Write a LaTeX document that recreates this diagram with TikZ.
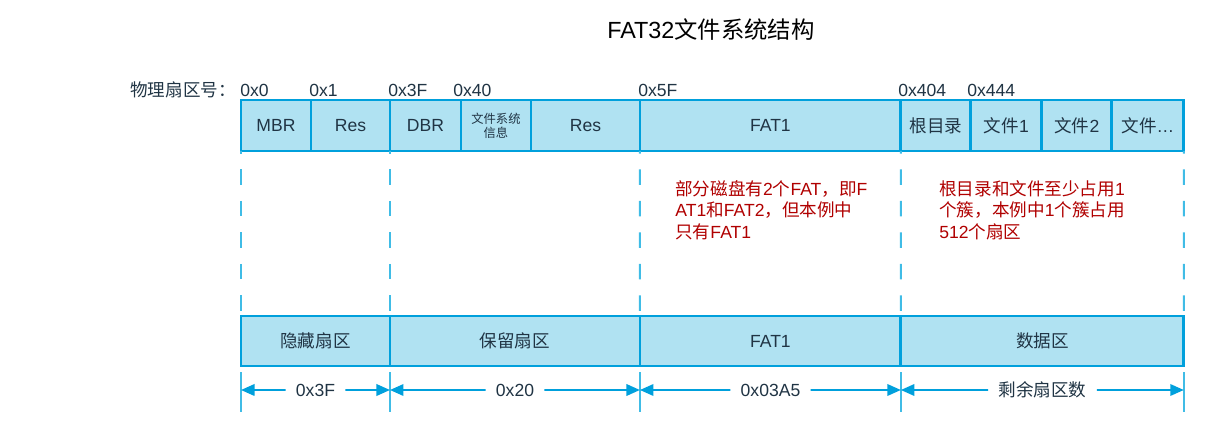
\documentclass[tikz,border=0pt]{standalone}
\usepackage{fontspec}
\setmainfont{Liberation Sans}
\newfontfamily\cjk[Scale=1.0]{Noto Sans CJK SC}
\usetikzlibrary{positioning,arrows.meta}
\definecolor{fatline}{RGB}{0,160,220}
\definecolor{fatfill}{RGB}{176,226,242}
\definecolor{fatguide}{RGB}{64,188,230}
\definecolor{fattext}{RGB}{32,52,68}
\definecolor{fatnote}{RGB}{176,0,0}
\newcommand{\zh}[1]{{\cjk #1}}
\tikzset{
  cell/.style={draw=fatline,fill=fatfill,line width=1.6pt,outer sep=0pt,inner sep=0pt,minimum height=1.02cm,font=\fontsize{10}{12}\selectfont,text=fattext},
  hexlab/.style={anchor=base west,inner sep=0pt,font=\fontsize{10}{12}\selectfont,text=fattext},
  guide/.style={fatguide,line width=1.1pt,dash pattern=on 0.31cm off 0.32cm,dash phase=0.26cm},
  tick/.style={fatguide,line width=1.1pt},
  dim/.style={fatline,line width=1.1pt,-{Triangle[length=0.27cm,width=0.23cm]}},
  dlab/.style={fill=white,inner xsep=0.2cm,inner ysep=1pt,font=\fontsize{10}{12}\selectfont,text=fattext},
  note/.style={anchor=north west,align=left,inner sep=0pt,font=\fontsize{10}{12.2}\selectfont,text=fatnote},
  ttl/.style={font=\fontsize{13.3}{15}\selectfont,text=black}
}
\begin{document}
\begin{tikzpicture}[x=0.02cm,y=-0.02cm]
  \useasboundingbox (0,0) rectangle (1210,437);
  \node[ttl] (title) at (711,30) {FAT32\zh{文件系统结构}};
  % sector numbers
  \node[hexlab] (phys) at (130,96) {\zh{物理扇区号：}};
  \node[hexlab] (h0) at (240,96) {0x0}; \node[hexlab] (h1) at (309,96) {0x1}; \node[hexlab] (h3f) at (388,96) {0x3F}; \node[hexlab] (h40) at (453,96) {0x40};
  \node[hexlab] (h5f) at (638,96) {0x5F}; \node[hexlab] (h404) at (898,96) {0x404}; \node[hexlab] (h444) at (967,96) {0x444};
  % top row
  \node[cell,anchor=west,minimum width=1.4cm] (mbr) at (241,125.5) {MBR};
  \node[cell,minimum width=1.58cm,right=0pt of mbr] (res1) {Res};
  \node[cell,minimum width=1.42cm,right=0pt of res1] (dbr) {DBR};
  \node[cell,minimum width=1.4cm,right=0pt of dbr,align=center,font=\fontsize{7}{8.2}\selectfont] (info) {\zh{文件系统}\\\zh{信息}};
  \node[cell,minimum width=2.18cm,right=0pt of info] (res2) {Res};
  \node[cell,minimum width=5.22cm,right=0pt of res2] (fat) {FAT1};
  \node[cell,minimum width=1.4cm,right=0pt of fat] (root) {\zh{根目录}};
  \node[cell,minimum width=1.42cm,right=0pt of root] (f1) {\zh{文件}1};
  \node[cell,minimum width=1.4cm,right=0pt of f1] (f2) {\zh{文件}2};
  \node[cell,minimum width=1.44cm,right=0pt of f2] (fn) {\zh{文件}…};
  % bottom row
  \node[cell,anchor=west,minimum width=2.98cm,minimum height=1.0cm] (hid) at (241,341) {\zh{隐藏扇区}};
  \node[cell,minimum width=5.0cm,minimum height=1.0cm,right=0pt of hid] (rsv) {\zh{保留扇区}};
  \node[cell,minimum width=5.22cm,minimum height=1.0cm,right=0pt of rsv] (fatb) {FAT1};
  \node[cell,minimum width=5.66cm,minimum height=1.0cm,right=0pt of fatb] (data) {\zh{数据区}};
  % guides
  \draw[guide] (mbr.south west) -- (hid.north west); \draw[guide] (res1.south east) -- (rsv.north west);
  \draw[guide] (res2.south east) -- (fatb.north west); \draw[guide] (fat.south east) -- (data.north west);
  \draw[guide] (fn.south east) -- (data.north east);
  \node[note] (n1) at (675,180) {\zh{部分磁盘有}2\zh{个}FAT\zh{，即}F\\AT1\zh{和}FAT2\zh{，但本例中}\\\zh{只有}FAT1};
  \node[note] (n2) at (939,180) {\zh{根目录和文件至少占用}1\\\zh{个簇，本例中}1\zh{个簇占用}\\512\zh{个扇区}};
  % sizes
  \coordinate[below=0.48cm of hid.south west] (t1); \coordinate[below=0.48cm of hid.south east] (t2);
  \coordinate[below=0.48cm of rsv.south east] (t3); \coordinate[below=0.48cm of fatb.south east] (t4);
  \coordinate[below=0.48cm of data.south east] (t5);
  \foreach \i in {1,...,5} \draw[tick] ([yshift=0.36cm]t\i) -- ([yshift=-0.44cm]t\i);
  \node[dlab] (w1) at (315.5,390) {0x3F}; \node[dlab] (w2) at (515,390) {0x20};
  \node[dlab] (w3) at (770.5,390) {0x03A5}; \node[dlab] (w4) at (1042.5,390) {\zh{剩余扇区数}};
  \foreach \i/\j in {1/2,2/3,3/4,4/5} {\draw[dim] (w\i) -- (t\i); \draw[dim] (w\i) -- (t\j);}
\end{tikzpicture}
\end{document}
